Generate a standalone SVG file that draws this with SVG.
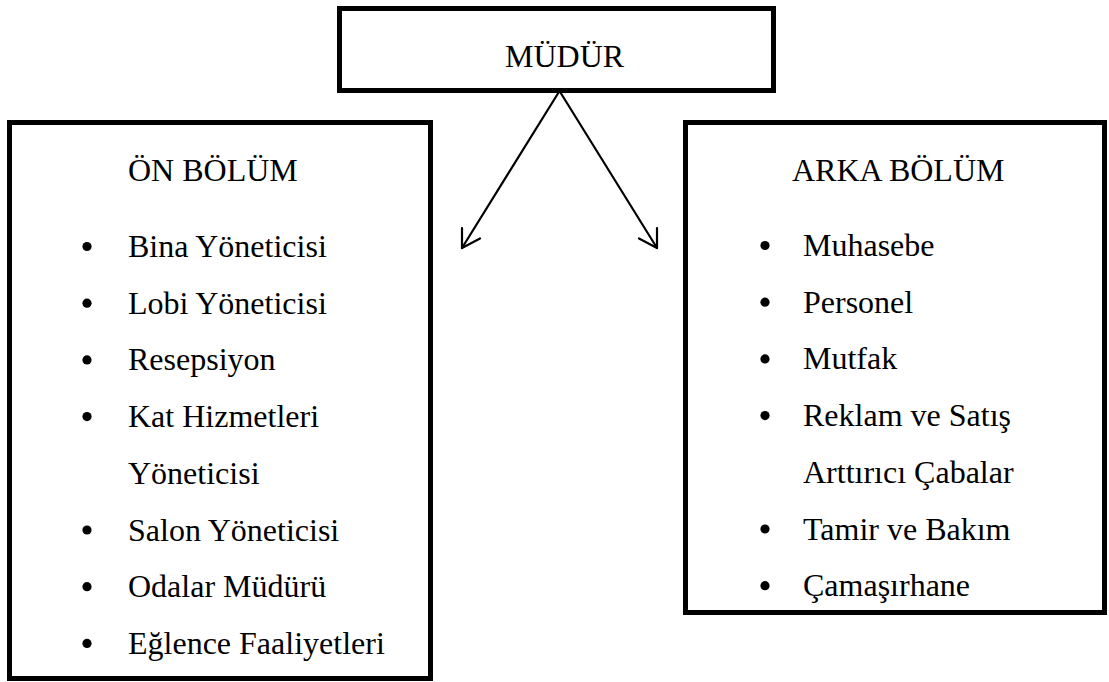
<svg xmlns="http://www.w3.org/2000/svg" width="1109" height="682" viewBox="0 0 1109 682">
  <style>
    .box { fill: #ffffff; stroke: #000000; stroke-width: 5; }
    .lbl { font-family: "Liberation Serif", "Times New Roman", serif; font-size: 32px; fill: #000000; }
    .dot { fill: #000000; }
    .link { fill: none; stroke: #000000; stroke-width: 2.2; stroke-linecap: round; stroke-linejoin: round; }
  </style>
  <rect width="1109" height="682" fill="#ffffff"/>

  <!-- top node -->
  <g id="mudur">
    <rect class="box" x="339.5" y="8.5" width="434" height="82"/>
    <text class="lbl" x="505" y="67">MÜDÜR</text>
  </g>

  <!-- front-of-house department -->
  <g id="on-bolum">
    <rect class="box" x="9.5" y="122.5" width="421" height="556"/>
    <text class="lbl" x="128" y="181">ÖN BÖLÜM</text>
    <circle class="dot" cx="87" cy="246.5" r="4.6"/>
    <text class="lbl" x="128" y="257">Bina Yöneticisi</text>
    <circle class="dot" cx="87" cy="303.2" r="4.6"/>
    <text class="lbl" x="128" y="313.7">Lobi Yöneticisi</text>
    <circle class="dot" cx="87" cy="359.9" r="4.6"/>
    <text class="lbl" x="128" y="370.4">Resepsiyon</text>
    <circle class="dot" cx="87" cy="416.6" r="4.6"/>
    <text class="lbl" x="128" y="427.1">Kat Hizmetleri</text>
    <text class="lbl" x="128" y="483.8">Yöneticisi</text>
    <circle class="dot" cx="87" cy="530" r="4.6"/>
    <text class="lbl" x="128" y="540.5">Salon Yöneticisi</text>
    <circle class="dot" cx="87" cy="586.7" r="4.6"/>
    <text class="lbl" x="128" y="597.2">Odalar Müdürü</text>
    <circle class="dot" cx="87" cy="643.4" r="4.6"/>
    <text class="lbl" x="128" y="653.9">Eğlence Faaliyetleri</text>
  </g>

  <!-- back-of-house department -->
  <g id="arka-bolum">
    <rect class="box" x="685.5" y="122.5" width="419" height="490"/>
    <text class="lbl" x="792" y="181">ARKA BÖLÜM</text>
    <circle class="dot" cx="765" cy="245.5" r="4.6"/>
    <text class="lbl" x="803" y="256">Muhasebe</text>
    <circle class="dot" cx="765" cy="302.2" r="4.6"/>
    <text class="lbl" x="803" y="312.7">Personel</text>
    <circle class="dot" cx="765" cy="358.9" r="4.6"/>
    <text class="lbl" x="803" y="369.4">Mutfak</text>
    <circle class="dot" cx="765" cy="415.6" r="4.6"/>
    <text class="lbl" x="803" y="426.1">Reklam ve Satış</text>
    <text class="lbl" x="803" y="482.8">Arttırıcı Çabalar</text>
    <circle class="dot" cx="765" cy="529" r="4.6"/>
    <text class="lbl" x="803" y="539.5">Tamir ve Bakım</text>
    <circle class="dot" cx="765" cy="585.7" r="4.6"/>
    <text class="lbl" x="803" y="596.2">Çamaşırhane</text>
  </g>

  <!-- connectors with open arrowheads -->
  <g id="connectors">
    <path class="link" d="M559.5 91 L462 248"/>
    <path class="link" d="M462 228 L462 248 L480 238.5"/>
    <path class="link" d="M559.5 91 L657 248"/>
    <path class="link" d="M657 228 L657 248 L639 238.5"/>
  </g>
</svg>
